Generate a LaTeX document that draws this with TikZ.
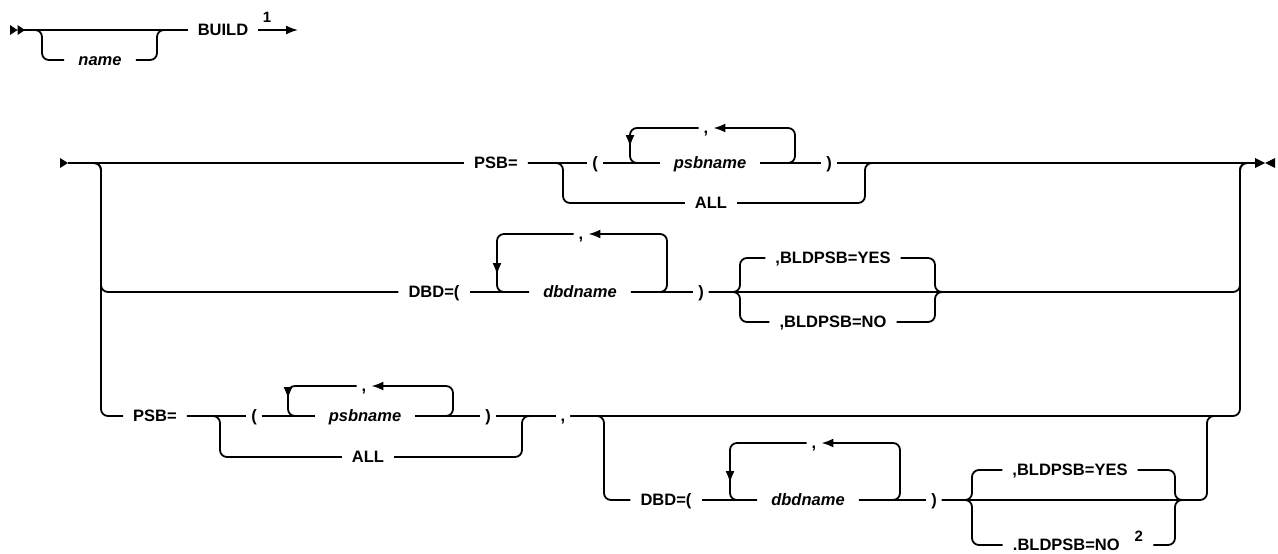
\documentclass[tikz,border=0pt]{standalone}
\usepackage{fontspec}
\setmainfont{Liberation Sans}
\usetikzlibrary{arrows.meta}

\begin{document}
\begin{tikzpicture}[x=1pt, y=-1pt, >={Latex[length=12pt,width=9pt]},
	every node/.style={font=\fontsize{16.5}{20}\selectfont\bfseries, text height=11.5pt, text depth=0pt, inner ysep=0pt, inner xsep=10pt, anchor=center},
	var/.style={font=\fontsize{16.5}{20}\selectfont\bfseries\itshape, inner xsep=14pt},
	sym/.style={inner xsep=5pt},
	note/.style={font=\fontsize{15}{17}\selectfont\bfseries, text height=10pt, inner sep=0pt},
	rail/.style={line width=1.8pt, rounded corners=7pt}]
	\useasboundingbox (0,0) rectangle (1278,554);
	\fill (10,25) -- (17.5,30) -- (10,35) -- cycle (17.5,25) -- (25,30) -- (17.5,35) -- cycle;
	\fill (60,158) -- (68,163) -- (60,168) -- cycle;
	\fill (1255,158) -- (1265,163) -- (1255,168) -- cycle (1275,158) -- (1265,163) -- (1275,168) -- cycle;
	\coordinate (st0) at (24,30); \coordinate (j0a) at (42,30); \coordinate (j0b) at (157,30); \coordinate (e0) at (298,30);
	\coordinate (st1) at (68,163); \coordinate (en1) at (1255,163);
	\coordinate (j1a) at (101,163); \coordinate (j1b) at (563,163); \coordinate (j1c) at (865,163); \coordinate (j1d) at (1240,163);
	\coordinate (jB1) at (740,292); \coordinate (jB2) at (935,292);
	\coordinate (jC1) at (220,416); \coordinate (jC2) at (522,416); \coordinate (jC3) at (604,416); \coordinate (jC4) at (1207,416);
	\coordinate (jD1) at (972,500); \coordinate (jD2) at (1175,500);
	\coordinate (lpA) at (630,128); \coordinate (rpA) at (795,128);
	\coordinate (lpB) at (497,234); \coordinate (rpB) at (667,234);
	\coordinate (lpC) at (288,386); \coordinate (rpC) at (453,386);
	\coordinate (lpD) at (730,443); \coordinate (rpD) at (900,443);
	\node (build) at (223,30) {BUILD};
	\node[var] (name) at (100,60) {name};
	\node[note] (fn1) at (267,17) {1};
	\node (psbA) at (496,163) {PSB=};
	\node[sym] (lparA) at (595,163) {(};
	\node[var] (psbnameA) at (710,163) {psbname};
	\node[sym] (sepA) at (706,128) {,};
	\node[sym] (rparA) at (829,163) {)};
	\node (allA) at (711,203) {ALL};
	\node (dbdB) at (434,292) {DBD=(};
	\node[var] (dbdnameB) at (580,292) {dbdname};
	\node[sym] (sepB) at (581,234) {,};
	\node[sym] (rparB) at (701,292) {)};
	\node (yesB) at (833,258) {,BLDPSB=YES};
	\node (noB) at (833,322) {,BLDPSB=NO};
	\node (psbC) at (155,416) {PSB=};
	\node[sym] (lparC) at (254,416) {(};
	\node[var] (psbnameC) at (365,416) {psbname};
	\node[sym] (sepC) at (364,386) {,};
	\node[sym] (rparC) at (488,416) {)};
	\node (allC) at (368,457) {ALL};
	\node[sym] (andC) at (563,416) {,};
	\node (dbdD) at (666,500) {DBD=(};
	\node[var] (dbdnameD) at (808,500) {dbdname};
	\node[sym] (sepD) at (814,443) {,};
	\node[sym] (rparD) at (934,500) {)};
	\node (yesD) at (1070,470) {,BLDPSB=YES};
	\node (noD) at (1078,545) {.BLDPSB=NO\hspace{15pt}\raisebox{9pt}{\fontsize{15}{17}\selectfont 2}};
	\draw[rail] (st0) -- (build.west);
	\draw[rail] (st0) -- (j0a) |- (name.west);
	\draw[rail] (name.east) -| (j0b) -- (build.west);
	\draw[rail,->] (build.east) -- (e0);
	\draw[rail] (st1) -- (psbA.west) (psbA.east) -- (lparA.west) (lparA.east) -- (psbnameA.west) (psbnameA.east) -- (rparA.west) (rparA.east) -- (en1);
	\draw[rail] (psbA.east) -- (j1b) |- (allA.west);
	\draw[rail] (allA.east) -| (j1c) -- (en1);
	\draw[rail,->] (psbnameA.east) -| (rpA) -- (sepA.east);
	\draw[rail,->] (sepA.west) -- (lpA) -- ++(0,19);
	\draw[rail] (lpA) ++(0,12) |- (psbnameA.west);
	\draw[rail] (st1) -- (j1a) |- (dbdB.west);
	\draw[rail] (st1) -- (j1a) |- (psbC.west);
	\draw[rail] (dbdB.east) -- (dbdnameB.west) (dbdnameB.east) -- (rparB.west);
	\draw[rail,->] (dbdnameB.east) -| (rpB) -- (sepB.east);
	\draw[rail,->] (sepB.west) -- (lpB) -- ++(0,41);
	\draw[rail] (lpB) ++(0,34) |- (dbdnameB.west);
	\draw[rail] (rparB.east) -| (j1d) -- (en1);
	\draw[rail] (rparB.east) -- (jB1) |- (yesB.west);
	\draw[rail] (rparB.east) -- (jB1) |- (noB.west);
	\draw[rail] (yesB.east) -| (jB2) -- ++(10,0);
	\draw[rail] (noB.east) -| (jB2) -- ++(10,0);
	\draw[rail] (psbC.east) -- (lparC.west) (lparC.east) -- (psbnameC.west) (psbnameC.east) -- (rparC.west) (rparC.east) -- (andC.west);
	\draw[rail] (psbC.east) -- (jC1) |- (allC.west);
	\draw[rail] (allC.east) -| (jC2) -- (andC.west);
	\draw[rail,->] (psbnameC.east) -| (rpC) -- (sepC.east);
	\draw[rail,->] (sepC.west) -- (lpC) -- ++(0,13);
	\draw[rail] (lpC) ++(0,6) |- (psbnameC.west);
	\draw[rail] (andC.east) -| (j1d) -- (en1);
	\draw[rail] (andC.east) -- (jC3) |- (dbdD.west);
	\draw[rail] (dbdD.east) -- (dbdnameD.west) (dbdnameD.east) -- (rparD.west);
	\draw[rail,->] (dbdnameD.east) -| (rpD) -- (sepD.east);
	\draw[rail,->] (sepD.west) -- (lpD) -- ++(0,40);
	\draw[rail] (lpD) ++(0,33) |- (dbdnameD.west);
	\draw[rail] (rparD.east) -| (jC4) -- ++(10,0);
	\draw[rail] (rparD.east) -- (jD1) |- (yesD.west);
	\draw[rail] (rparD.east) -- (jD1) |- (noD.west);
	\draw[rail] (yesD.east) -| (jD2) -- ++(10,0);
	\draw[rail] (noD.east) -| (jD2) -- ++(10,0);
\end{tikzpicture}
\end{document}
